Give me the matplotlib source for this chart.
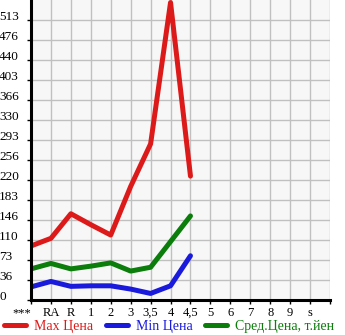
import numpy as np
import matplotlib
matplotlib.use("Agg")
import matplotlib.pyplot as plt

plt.rcParams['font.family'] = ['Liberation Serif', 'DejaVu Serif']

# categories and price series
categories = ['***', 'RA', 'R', '1', '2', '3', '3,5', '4', '4,5', '5', '6', '7', '8', '9', 's']
max_price = [99, 113, 158, 138, 119, 208, 286, 545, 227]
min_price = [24, 34, 25, 26, 26, 20, 12, 26, 81]
avg_price = [57, 67, 57, 62, 68, 53, 60, 107, 154]
ytick_values = [0, 36.64, 73.29, 109.93, 146.57, 183.21, 219.86, 256.5,
                293.14, 329.79, 366.43, 403.07, 439.71, 476.36, 513]
ytick_labels = ['0', '36', '73', '110', '146', '183', '220', '256',
                '293', '330', '366', '403', '440', '476', '513']

fig = plt.figure(figsize=(3.45, 3.35), dpi=100)
ax = fig.add_axes([31/345, 1 - 300/335, 299/345, 300/335])
ax.set_facecolor('#f7f7f7')

x = np.arange(len(max_price))
lw = 3.6
ax.plot(x, max_price, color='#dd1a1a', lw=lw, solid_capstyle='round', label='Max Цена')
ax.plot(x, min_price, color='#1a1adc', lw=lw, solid_capstyle='round', label='Min Цена')
ax.plot(x, avg_price, color='#0a7d0a', lw=lw, solid_capstyle='round', label='Сред.Цена, т.йен')

ax.set_xlim(0, 15)
ax.set_ylim(0, 549.6)
ax.set_xticks(np.arange(16))
ax.set_xticklabels(categories + [''], fontsize=9)
ax.get_xticklabels()[0].set_horizontalalignment('right')
ax.set_yticks(ytick_values)
ax.set_yticklabels(ytick_labels, fontsize=9.5)
for lab in ax.get_yticklabels():
    lab.set_horizontalalignment('left')
    lab.set_verticalalignment('baseline')

ax.tick_params(axis='y', length=3, width=1, pad=20)
ax.tick_params(axis='x', length=3, width=1, pad=2)
ax.grid(True, color='#c0c0c0', lw=1)
ax.set_axisbelow(True)
for s in ['top', 'right']:
    ax.spines[s].set_visible(False)
ax.spines['left'].set_linewidth(2.2)
ax.spines['bottom'].set_linewidth(2.2)

leg = fig.legend(loc='lower left', bbox_to_anchor=(-0.012, -0.018), ncol=3, frameon=False,
                 fontsize=10, handlelength=1.6, handletextpad=0.55, columnspacing=0.9,
                 borderaxespad=0.2)
for t, h in zip(leg.get_texts(), leg.legend_handles):
    t.set_color(h.get_color())

fig.savefig('out.png', dpi=100)
